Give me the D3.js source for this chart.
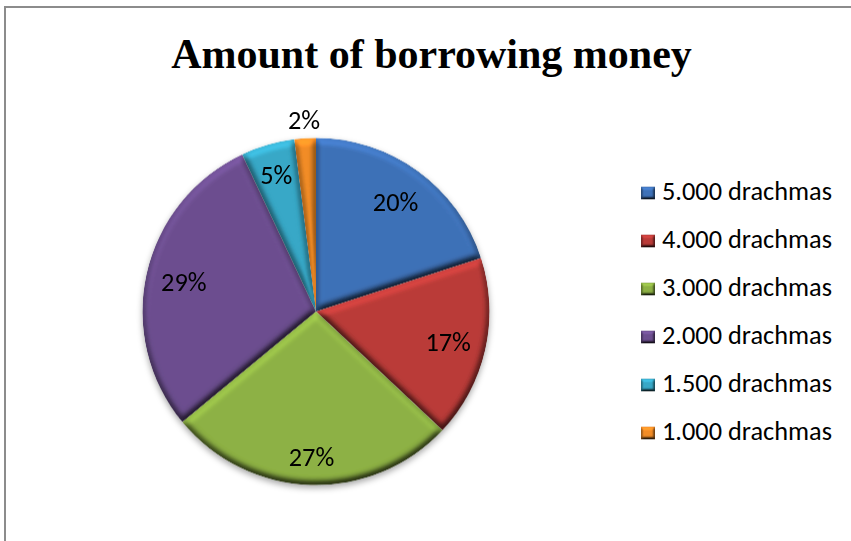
<!DOCTYPE html>
<html>
<head>
<meta charset="utf-8">
<script src="https://cdn.jsdelivr.net/npm/d3@7"></script>
<style>
  html, body { margin: 0; padding: 0; background: #fff; }
  svg { display: block; }
</style>
</head>
<body>
<svg id="chart" width="851" height="541"></svg>
<script>
// Borrowing amounts and their share of loans (percent)
const title = "Amount of borrowing money";
const categories = ["5.000 drachmas", "4.000 drachmas", "3.000 drachmas", "2.000 drachmas", "1.500 drachmas", "1.000 drachmas"];
const shares = [20, 17, 27, 29, 5, 2];
const sliceColors = ["#3E71B7", "#BA3B38", "#8DB144", "#6C4E8F", "#37A8C7", "#F28C26"];

const W = 851, H = 541;
const svg = d3.select("#chart");
const defs = svg.append("defs");

// Soft-round bevel: light from above, shading derived from the blurred alpha edge
function bevelFilter(id, blur, scale) {
  const f = defs.append("filter").attr("id", id)
    .attr("x", "-10%").attr("y", "-10%").attr("width", "120%").attr("height", "120%")
    .attr("color-interpolation-filters", "sRGB");
  f.append("feGaussianBlur").attr("in", "SourceAlpha").attr("stdDeviation", blur).attr("result", "b");
  const dl = f.append("feDiffuseLighting").attr("in", "b").attr("surfaceScale", scale)
    .attr("diffuseConstant", 1).attr("lighting-color", "#fff").attr("result", "diff");
  dl.append("feDistantLight").attr("azimuth", 260).attr("elevation", 60);
  f.append("feComposite").attr("in", "SourceGraphic").attr("in2", "diff")
    .attr("operator", "arithmetic").attr("k1", 1.155).attr("k2", 0).attr("k3", 0).attr("k4", 0).attr("result", "lit");
  f.append("feComposite").attr("in", "lit").attr("in2", "SourceAlpha").attr("operator", "in");
}
bevelFilter("bevel", 3.5, 4.5);
bevelFilter("bevelSmall", 1.6, 3);

const shadow = defs.append("filter").attr("id", "shadow")
  .attr("x", "-10%").attr("y", "-10%").attr("width", "120%").attr("height", "125%");
shadow.append("feDropShadow").attr("dx", 0).attr("dy", 3).attr("stdDeviation", 3)
  .attr("flood-color", "#000").attr("flood-opacity", 0.35);

// Chart frame (top and left edges)
svg.append("line").attr("x1", 4).attr("x2", W).attr("y1", 7).attr("y2", 7)
  .attr("stroke", "#8c8c8c").attr("stroke-width", 2);
svg.append("line").attr("x1", 5).attr("x2", 5).attr("y1", 6).attr("y2", H)
  .attr("stroke", "#8c8c8c").attr("stroke-width", 2);

// Title
svg.append("text")
  .attr("x", 431.5).attr("y", 68)
  .attr("text-anchor", "middle")
  .style("font-family", "'Liberation Serif', 'Times New Roman', serif")
  .style("font-weight", "bold")
  .style("font-size", "42px")
  .attr("fill", "#000")
  .text(title);

// Label font sized so the legend entries keep their width
const labelFont = "Carlito, Calibri, Lato, sans-serif";
const probe = svg.append("text").style("font-family", labelFont).style("font-size", "20px").text(categories[0]);
const fontSize = 20 * 170 / probe.node().getComputedTextLength();
probe.remove();

// Pie
const cx = 316, cy = 311.5, R = 173.5;
const total = d3.sum(shares);
const pie = d3.pie().sort(null).value(d => d)(shares);
const arc = d3.arc().innerRadius(0).outerRadius(R);
const color = d3.scaleOrdinal().domain(categories).range(sliceColors);
const pct = d3.format(".0%");

const g = svg.append("g").attr("transform", `translate(${cx},${cy})`);
const slices = g.append("g").attr("filter", "url(#shadow)");
slices.selectAll("path")
  .data(pie)
  .join("path")
  .attr("d", arc)
  .attr("fill", (d, i) => color(categories[i]))
  .attr("filter", "url(#bevel)");

// Data labels: inside as far out as the text box fits, outside for thin slices
const labels = g.append("g")
  .style("font-family", labelFont)
  .style("font-size", fontSize + "px")
  .attr("fill", "#000");

pie.forEach((d, i) => {
  const t = labels.append("text").attr("text-anchor", "middle").attr("dy", "0.36em")
    .text(pct(d.value / total));
  const hw = t.node().getComputedTextLength() / 2 + 2;
  const hh = fontSize * 0.62;
  const a = (d.startAngle + d.endAngle) / 2;
  const sx = Math.sin(a), sy = -Math.cos(a);
  let r;
  if (d.value / total < 0.03) {
    r = R + 1 + Math.abs(Math.cos(a)) * hh + Math.abs(Math.sin(a)) * hw;
  } else {
    const limit = R - 10;
    let lo = 0, hi = R;
    for (let k = 0; k < 40; k++) {
      const m = (lo + hi) / 2;
      const dx = Math.abs(m * sx) + hw, dy = Math.abs(m * sy) + hh;
      if (Math.hypot(dx, dy) <= limit) lo = m; else hi = m;
    }
    r = lo;
  }
  t.attr("x", r * sx).attr("y", r * sy);
});

// Legend
const legend = svg.append("g").attr("transform", "translate(641,193)");
const row = d3.scalePoint().domain(categories).range([0, 240]);
const items = legend.selectAll("g").data(categories).join("g")
  .attr("transform", d => `translate(0,${row(d)})`);
items.append("rect")
  .attr("x", 0).attr("y", -6.5).attr("width", 14).attr("height", 13)
  .attr("fill", d => color(d))
  .attr("filter", "url(#bevelSmall)");
items.append("text")
  .attr("x", 21).attr("y", 7.3)
  .style("font-family", labelFont)
  .style("font-size", fontSize + "px")
  .attr("fill", "#000")
  .text(d => d);
</script>
</body>
</html>
